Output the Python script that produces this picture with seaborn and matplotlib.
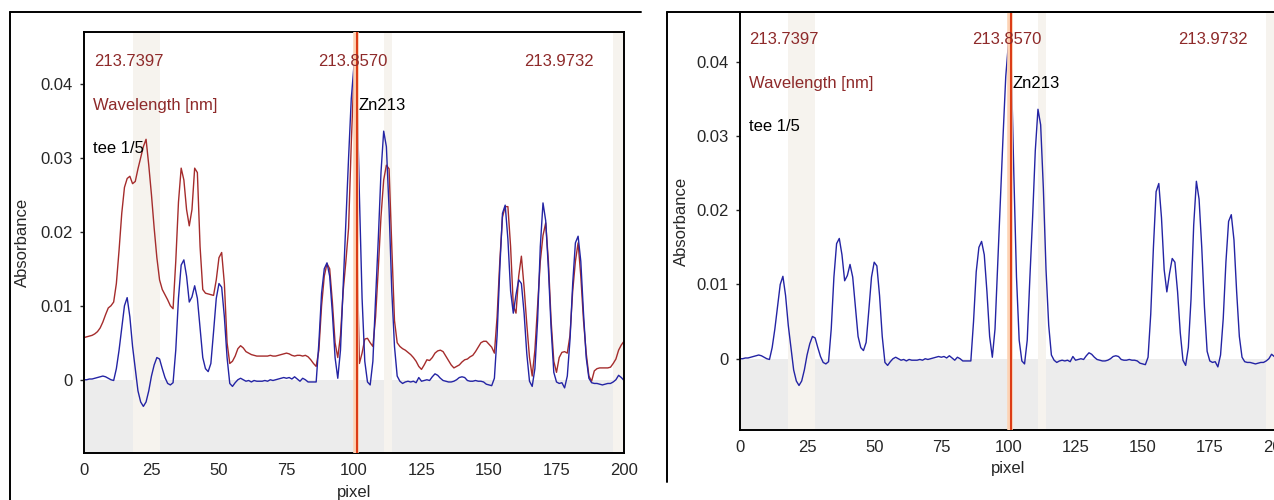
import numpy as np
import pandas as pd
import seaborn as sns
import matplotlib.pyplot as plt
from matplotlib.lines import Line2D

# Spectrum samples, one per detector pixel (0..200)
pixel = np.arange(0, 201)

# blue trace: "tee 1/5"
blue_abs = [
    0.0000, 0.0000, 0.0001, 0.0001, 0.0002, 0.0003, 0.0004, 0.0005, 0.0004, 0.0002,
    0.0000, -0.0001, 0.0015, 0.0040, 0.0070, 0.0100, 0.0111, 0.0085, 0.0045, 0.0015,
    -0.0015, -0.0030, -0.0036, -0.0030, -0.0015, 0.0005, 0.0020, 0.0030, 0.0028, 0.0015,
    0.0003, -0.0005, -0.0007, -0.0004, 0.0040, 0.0110, 0.0155, 0.0162, 0.0140, 0.0105,
    0.0112, 0.0127, 0.0110, 0.0070, 0.0030, 0.0015, 0.0011, 0.0022, 0.0065, 0.0110,
    0.0130, 0.0125, 0.0085, 0.0030, -0.0005, -0.0009, -0.0004, 0.0000, 0.0002, 0.0000,
    -0.0002, -0.0001, -0.0003, -0.0001, -0.0002, -0.0002, -0.0002, -0.0001, -0.0002, 0.0000,
    -0.0001, 0.0000, 0.0001, 0.0002, 0.0003, 0.0002, 0.0003, 0.0001, 0.0004, 0.0001,
    -0.0002, 0.0002, 0.0000, -0.0003, -0.0003, -0.0003, -0.0003, 0.0050, 0.0117, 0.0150,
    0.0158, 0.0140, 0.0090, 0.0030, 0.0002, 0.0040, 0.0126, 0.0210, 0.0300, 0.0380,
    0.0425, 0.0405, 0.0250, 0.0110, 0.0025, -0.0003, -0.0007, 0.0025, 0.0110, 0.0190,
    0.0280, 0.0336, 0.0315, 0.0230, 0.0120, 0.0045, 0.0005, -0.0002, -0.0005, -0.0003,
    -0.0002, -0.0003, -0.0002, -0.0004, 0.0003, -0.0002, -0.0001, 0.0000, -0.0001, 0.0004,
    0.0008, 0.0006, 0.0002, -0.0001, -0.0002, -0.0003, -0.0003, -0.0002, 0.0000, 0.0003,
    0.0004, 0.0003, -0.0001, -0.0002, -0.0002, -0.0001, -0.0002, -0.0002, -0.0003, -0.0006,
    -0.0007, -0.0008, 0.0002, 0.0060, 0.0150, 0.0225, 0.0236, 0.0190, 0.0120, 0.0090,
    0.0115, 0.0135, 0.0130, 0.0090, 0.0035, -0.0002, -0.0009, 0.0015, 0.0080, 0.0180,
    0.0239, 0.0215, 0.0150, 0.0070, 0.0010, -0.0003, -0.0005, -0.0004, -0.0011, 0.0005,
    0.0054, 0.0130, 0.0185, 0.0194, 0.0160, 0.0090, 0.0030, 0.0002, -0.0004, -0.0005,
    -0.0005, -0.0006, -0.0007, -0.0006, -0.0005, -0.0005, -0.0003, 0.0000, 0.0006, 0.0003,
    -0.0001,
]

# red trace: second sample (left panel only)
red_abs = [
    0.0057, 0.0058, 0.0059, 0.0060, 0.0062, 0.0065, 0.0070, 0.0078, 0.0088, 0.0097,
    0.0100, 0.0105, 0.0130, 0.0175, 0.0225, 0.0260, 0.0272, 0.0275, 0.0265, 0.0268,
    0.0285, 0.0300, 0.0315, 0.0325, 0.0290, 0.0250, 0.0205, 0.0165, 0.0135, 0.0122,
    0.0115, 0.0108, 0.0100, 0.0096, 0.0160, 0.0240, 0.0286, 0.0270, 0.0230, 0.0208,
    0.0230, 0.0286, 0.0280, 0.0180, 0.0122, 0.0117, 0.0116, 0.0115, 0.0114, 0.0135,
    0.0165, 0.0172, 0.0130, 0.0050, 0.0022, 0.0025, 0.0032, 0.0042, 0.0046, 0.0043,
    0.0038, 0.0036, 0.0034, 0.0033, 0.0032, 0.0032, 0.0032, 0.0032, 0.0032, 0.0033,
    0.0032, 0.0032, 0.0033, 0.0034, 0.0035, 0.0036, 0.0035, 0.0033, 0.0032, 0.0033,
    0.0033, 0.0032, 0.0033, 0.0031, 0.0027, 0.0022, 0.0018, 0.0040, 0.0100, 0.0140,
    0.0157, 0.0150, 0.0105, 0.0050, 0.0030, 0.0060, 0.0120, 0.0160, 0.0205, 0.0320,
    0.0415, 0.0200, 0.0022, 0.0036, 0.0055, 0.0056, 0.0050, 0.0045, 0.0085, 0.0150,
    0.0220, 0.0270, 0.0290, 0.0285, 0.0180, 0.0080, 0.0050, 0.0045, 0.0042, 0.0040,
    0.0037, 0.0034, 0.0030, 0.0025, 0.0018, 0.0014, 0.0020, 0.0027, 0.0026, 0.0030,
    0.0036, 0.0039, 0.0040, 0.0038, 0.0032, 0.0026, 0.0020, 0.0016, 0.0018, 0.0020,
    0.0024, 0.0027, 0.0028, 0.0031, 0.0033, 0.0038, 0.0044, 0.0050, 0.0052, 0.0052,
    0.0048, 0.0044, 0.0036, 0.0085, 0.0160, 0.0220, 0.0234, 0.0234, 0.0180, 0.0100,
    0.0090, 0.0140, 0.0167, 0.0125, 0.0075, 0.0030, 0.0005, 0.0040, 0.0100, 0.0160,
    0.0195, 0.0212, 0.0160, 0.0080, 0.0025, 0.0010, 0.0030, 0.0037, 0.0038, 0.0036,
    0.0060, 0.0120, 0.0160, 0.0185, 0.0140, 0.0080, 0.0036, 0.0005, -0.0002, 0.0012,
    0.0015, 0.0016, 0.0016, 0.0016, 0.0016, 0.0017, 0.0022, 0.0028, 0.0040, 0.0047,
    0.0052,
]

# wavelength labels shown across the top
wl_labels = ['213.7397', '213.8570', '213.9732']
wl_pixels = [16.5, 99.5, 176]
line_name = 'Zn213'
line_pixel = 101.0
# pixel windows shaded as background regions
bg_windows = [(18, 28), (111, 114), (196, 200)]

x_ticks = [0, 25, 50, 75, 100, 125, 150, 175, 200]
y_ticks = [0, 0.01, 0.02, 0.03, 0.04]
y_ticklabels = ['0', '0.01', '0.02', '0.03', '0.04']

BLUE = '#2424a4'
RED = '#a52c2c'
LABEL_RED = '#8e2a2a'

sns.set_style('white')
plt.rcParams['font.family'] = ['Liberation Sans', 'DejaVu Sans']

fig = plt.figure(figsize=(12.74, 5.0), dpi=100)

# outer frames of the two screenshots
for xs, ys in [([0.0075, 0.0075], [0.0, 0.976]), ([0.0075, 0.503], [0.976, 0.976]),
               ([0.5235, 0.5235], [0.036, 0.976]), ([0.5235, 1.0], [0.976, 0.976])]:
    fig.add_artist(Line2D(xs, ys, transform=fig.transFigure, color='black', lw=1.4))

ax_left = fig.add_axes([0.0659, 0.094, 0.4239, 0.842])
ax_right = fig.add_axes([0.5808, 0.140, 0.4215, 0.836])


def draw_panel(ax, show_red, ylim):
    ax.set_xlim(0, 200)
    ax.set_ylim(*ylim)
    ax.axhspan(ylim[0], 0, color='#ececec', lw=0, zorder=0)
    for a, b in bg_windows:
        ax.axvspan(a, b, color='#f6f3ee', lw=0, zorder=0.5)
    ax.axvline(line_pixel - 0.4, color='#fdd3b4', lw=4, zorder=3)
    ax.axvline(line_pixel, color='#dc3c16', lw=1.5, zorder=3.1)

    if show_red:
        sns.lineplot(x=pixel, y=red_abs, ax=ax, color=RED, lw=1.0,
                     estimator=None, zorder=2)
    sns.lineplot(x=pixel, y=blue_abs, ax=ax, color=BLUE, lw=1.0,
                 estimator=None, zorder=2.2)

    for lbl, px in zip(wl_labels, wl_pixels):
        ax.text(px, 0.0430, lbl, color=LABEL_RED, fontsize=12, ha='center', va='center', zorder=5)
    ax.text(3.3, 0.0371, 'Wavelength [nm]', color=LABEL_RED, fontsize=12, ha='left', va='center', zorder=5)
    ax.text(3.3, 0.0313, 'tee 1/5', color='black', fontsize=12, ha='left', va='center', zorder=5)
    ax.text(line_pixel + 0.6, 0.0371, line_name, color='black', fontsize=12, ha='left', va='center', zorder=5)

    ax.set_xticks(x_ticks)
    ax.set_yticks(y_ticks)
    ax.set_yticklabels(y_ticklabels)
    ax.tick_params(axis='x', length=0, pad=7, labelsize=12)
    ax.tick_params(axis='y', length=3, width=1, pad=5, labelsize=12, left=True)
    for sp in ax.spines.values():
        sp.set_color('black')
        sp.set_linewidth(1.4)
    ax.set_xlabel('pixel', fontsize=12)
    ax.set_ylabel('Absorbance', fontsize=12)
    ax.grid(False)


draw_panel(ax_left, True, (-0.0099, 0.0470))
draw_panel(ax_right, False, (-0.0096, 0.0467))

ax_left.xaxis.set_label_coords(0.5, -0.075)
ax_right.xaxis.set_label_coords(0.5, -0.074)
ax_left.yaxis.set_label_coords(-0.10, 0.5)
ax_right.yaxis.set_label_coords(-0.095, 0.5)

fig.savefig('out.png', dpi=100)
